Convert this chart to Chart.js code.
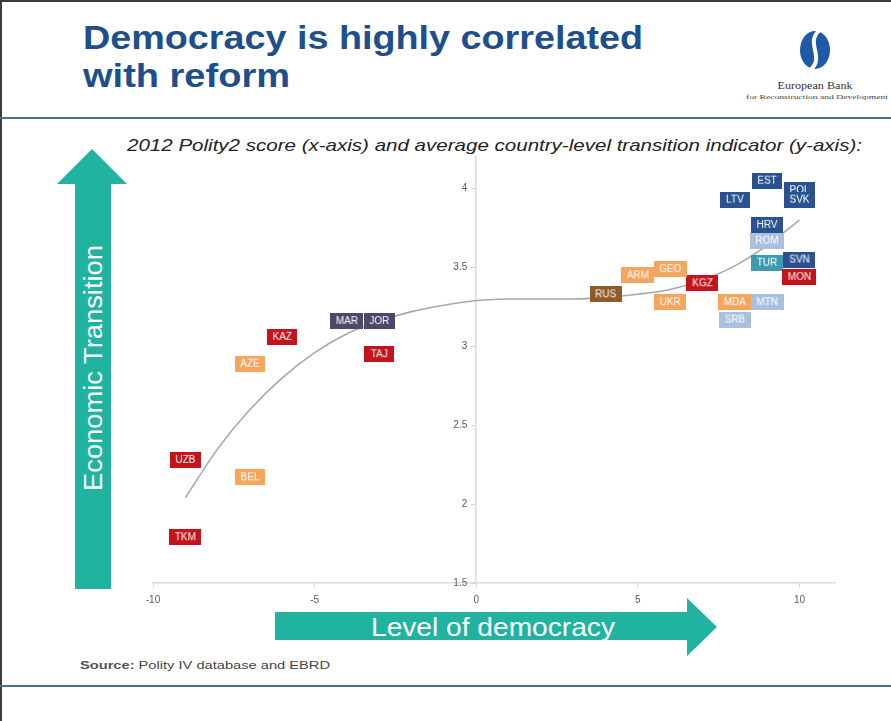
<!DOCTYPE html>
<html><head><meta charset="utf-8">
<script src="https://cdn.jsdelivr.net/npm/chart.js@4.4.0/dist/chart.umd.min.js"></script>
<style>
html,body{margin:0;padding:0;background:#fff;}
#page{position:relative;width:891px;height:721px;overflow:hidden;background:#fff;}
#deco{position:absolute;left:0;top:0;}
#chartBox{position:absolute;left:0;top:0;width:891px;height:721px;}
</style></head><body>
<div id="page">
<svg id="deco" width="891" height="721" xmlns="http://www.w3.org/2000/svg" font-family="'Liberation Sans', Arial, sans-serif">
  <rect x="0" y="0" width="891" height="721" fill="#fff"/>
  <line x1="1" y1="0" x2="1" y2="721" stroke="#3c3c3c" stroke-width="2"/>
  <line x1="0" y1="1" x2="891" y2="1" stroke="#3c3c3c" stroke-width="2"/>
  <line x1="0" y1="118" x2="891" y2="118" stroke="#4f6e8e" stroke-width="2"/>
  <line x1="0" y1="686" x2="891" y2="686" stroke="#4f6e8e" stroke-width="2"/>
  <text x="83" y="49" font-weight="bold" font-size="34" fill="#1e4f8d" textLength="560" lengthAdjust="spacingAndGlyphs">Democracy is highly correlated</text>
  <text x="83" y="87" font-weight="bold" font-size="34" fill="#1e4f8d" textLength="207" lengthAdjust="spacingAndGlyphs">with reform</text>
  <!-- logo -->
  <ellipse cx="815" cy="50" rx="15" ry="19" fill="#1f5aa6"/>
  <path d="M820,30 C804,42 826,58 810,70" stroke="#fff" stroke-width="4" fill="none"/>
  <text x="815" y="89" text-anchor="middle" font-family="'Liberation Serif', serif" font-size="11" fill="#333" textLength="75" lengthAdjust="spacingAndGlyphs">European Bank</text>
  <text x="817" y="99" text-anchor="middle" font-family="'Liberation Serif', serif" font-size="6" fill="#444" textLength="142" lengthAdjust="spacingAndGlyphs">for Reconstruction and Development</text>
  <text x="127" y="151" font-style="italic" font-size="17" fill="#222" textLength="735" lengthAdjust="spacingAndGlyphs">2012  Polity2 score (x-axis) and average country-level transition indicator (y-axis):</text>
  <!-- arrows -->
  <polygon points="75,589 75,184 57,184 92,149 127,184 111,184 111,589" fill="#1fb3a0"/>
  <text transform="translate(102,368) rotate(-90)" text-anchor="middle" font-size="25" fill="#fff" textLength="246" lengthAdjust="spacingAndGlyphs">Economic Transition</text>
  <polygon points="275,612 687,612 687,598 717,627 687,656 687,640 275,640" fill="#1fb3a0"/>
  <text x="493" y="636" text-anchor="middle" font-size="25" fill="#fff" textLength="244" lengthAdjust="spacingAndGlyphs">Level of democracy</text>
  <text x="80" y="669" font-size="10" fill="#444" textLength="250" lengthAdjust="spacingAndGlyphs"><tspan font-weight="bold" fill="#555">Source:</tspan> Polity IV database and EBRD</text>
</svg>
<div id="chartBox"><canvas id="c" width="891" height="721"></canvas></div>
</div>
<script>
// ---- data ----
const codes      = ['EST','POL','SVK','LTV','HRV','ROM','SVN','TUR','MON','MDA','MTN','SRB','KGZ','GEO','ARM','UKR','RUS','MAR','JOR','TAJ','KAZ','AZE','UZB','BEL','TKM'];
const polity     = [9, 10, 10, 8, 9, 9, 10, 9, 10, 8, 9, 8, 7, 6, 5, 6, 4, -4, -3, -3, -6, -7, -9, -7, -9];
const transition = [4.05, 3.99, 3.93, 3.93, 3.77, 3.67, 3.55, 3.53, 3.44, 3.28, 3.28, 3.17, 3.40, 3.49, 3.45, 3.28, 3.33, 3.16, 3.16, 2.95, 3.06, 2.89, 2.28, 2.17, 1.79];
const region     = ['CEB','CEB','CEB','CEB','CEB','SEE','CEB','TUR','CA','EEC','SEE','SEE','CA','EEC','EEC','EEC','RUS','SEMED','SEMED','CA','CA','EEC','CA','EEC','CA'];
const trendX     = [-9, -8, -7, -6, -5, -4, -3, -2, -1, 0, 1, 2, 3, 4, 5, 6, 7, 8, 9, 10];
const trendY     = [2.04, 2.35, 2.60, 2.80, 2.96, 3.08, 3.16, 3.22, 3.26, 3.29, 3.30, 3.30, 3.30, 3.31, 3.33, 3.36, 3.42, 3.51, 3.64, 3.80];
const xTicks     = [-10, -5, 0, 5, 10];
const yTicks     = [1.5, 2, 2.5, 3, 3.5, 4];

// ---- styles ----
const regionColor = {CEB:'#2a5290', SEE:'#a9c1de', TUR:'#3f9cb0', CA:'#c3141d', EEC:'#f5a65d', RUS:'#8e5a26', SEMED:'#4b486c'};
const tagFont = '10px "Liberation Sans", Arial, sans-serif';

function makeTag(text, color){
  const m = document.createElement('canvas').getContext('2d');
  m.font = tagFont;
  const w = Math.max(30, Math.round(m.measureText(text).width + 11));
  const c = document.createElement('canvas');
  c.width = w; c.height = 16;
  const g = c.getContext('2d');
  g.fillStyle = color; g.fillRect(0, 0, w, 16);
  g.fillStyle = '#ffffff'; g.font = tagFont;
  g.textAlign = 'center'; g.textBaseline = 'middle';
  g.fillText(text, w / 2, 8.5);
  return c;
}
const tags = codes.map((c, i) => makeTag(c, regionColor[region[i]]));

const yLabelPlugin = {
  id: 'yLabels',
  afterDraw(chart){
    const ctx = chart.ctx, xs = chart.scales.x, ys = chart.scales.y;
    const x0 = xs.getPixelForValue(0);
    ctx.save();
    ctx.font = '10px "Liberation Sans", Arial, sans-serif';
    ctx.fillStyle = '#5a5a5a';
    ctx.textAlign = 'right'; ctx.textBaseline = 'middle';
    yTicks.forEach(v => ctx.fillText(String(v), x0 - 9, ys.getPixelForValue(v)));
    ctx.restore();
  }
};

new Chart(document.getElementById('c'), {
  data: {
    datasets: [
      {
        type: 'scatter',
        order: 0,
        data: codes.map((c, i) => ({x: polity[i], y: transition[i]})),
        pointStyle: tags,
        pointRadius: 10,
        pointHoverRadius: 10,
        clip: false
      },
      {
        type: 'line',
        order: 1,
        data: trendX.map((x, i) => ({x: x, y: trendY[i]})),
        borderColor: '#a8a8a8',
        borderWidth: 1.6,
        pointRadius: 0,
        tension: 0.4,
        cubicInterpolationMode: 'monotone',
        fill: false
      }
    ]
  },
  options: {
    responsive: false,
    animation: false,
    events: [],
    layout: {padding: {left: 153, right: 56, top: 157, bottom: 116}},
    plugins: {legend: {display: false}, tooltip: {enabled: false}},
    scales: {
      x: {
        type: 'linear', position: 'bottom', min: -10, max: 11.1,
        afterBuildTicks: s => { s.ticks = xTicks.map(v => ({value: v})); },
        afterFit: s => { s.height = 22; },
        grid: {drawOnChartArea: false, tickLength: 4, color: '#d6d6d6'},
        border: {color: '#d9d9d9', width: 1.5},
        ticks: {font: {size: 10, family: '"Liberation Sans", Arial'}, color: '#5a5a5a', padding: 7, autoSkip: false, maxRotation: 0}
      },
      y: {
        type: 'linear', position: {x: 0}, min: 1.5, max: 4.2,
        afterBuildTicks: s => { s.ticks = yTicks.map(v => ({value: v})); },
        grid: {drawOnChartArea: false, tickLength: 4, color: '#d6d6d6'},
        border: {color: '#d9d9d9', width: 1.5},
        ticks: {display: false}
      }
    }
  },
  plugins: [yLabelPlugin]
});
</script>
</body></html>
